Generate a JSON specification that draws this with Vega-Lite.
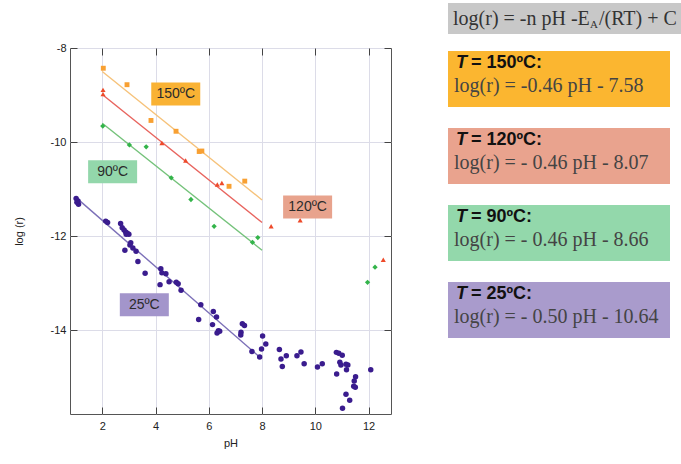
{
  "$schema": "https://vega.github.io/schema/vega-lite/v6.json",
  "padding": {"left": 12, "top": 3, "right": 0, "bottom": 0},
  "background": "white",
  "config": {"view": {"stroke": null}, "font": "Liberation Sans"},
  "datasets": {
    "points": [
      {"T": "150", "pH": 2.04, "logr": -8.43}, {"T": "150", "pH": 2.93, "logr": -8.78}, {"T": "150", "pH": 3.83, "logr": -9.54}, {"T": "150", "pH": 4.77, "logr": -9.77},
      {"T": "150", "pH": 5.64, "logr": -10.2}, {"T": "150", "pH": 5.74, "logr": -10.19}, {"T": "150", "pH": 6.76, "logr": -10.94}, {"T": "150", "pH": 7.35, "logr": -10.83},
      {"T": "120", "pH": 2.03, "logr": -8.89}, {"T": "120", "pH": 2.03, "logr": -8.98}, {"T": "120", "pH": 4.24, "logr": -10.02}, {"T": "120", "pH": 5.13, "logr": -10.39},
      {"T": "120", "pH": 6.32, "logr": -10.9}, {"T": "120", "pH": 6.49, "logr": -10.87}, {"T": "120", "pH": 8.34, "logr": -11.79}, {"T": "120", "pH": 9.43, "logr": -11.66},
      {"T": "120", "pH": 12.55, "logr": -12.5},
      {"T": "90", "pH": 2.02, "logr": -9.66}, {"T": "90", "pH": 3.02, "logr": -10.06}, {"T": "90", "pH": 3.65, "logr": -10.1}, {"T": "90", "pH": 4.59, "logr": -10.76},
      {"T": "90", "pH": 5.33, "logr": -11.22}, {"T": "90", "pH": 6.2, "logr": -11.79}, {"T": "90", "pH": 7.64, "logr": -12.13}, {"T": "90", "pH": 7.84, "logr": -12.03},
      {"T": "90", "pH": 11.96, "logr": -12.98}, {"T": "90", "pH": 12.24, "logr": -12.66},
      {"T": "25", "pH": 1.02, "logr": -11.2}, {"T": "25", "pH": 1.09, "logr": -11.25}, {"T": "25", "pH": 1.11, "logr": -11.32}, {"T": "25", "pH": 1.05, "logr": -11.28},
      {"T": "25", "pH": 2.13, "logr": -11.68}, {"T": "25", "pH": 2.2, "logr": -11.71}, {"T": "25", "pH": 2.69, "logr": -11.73}, {"T": "25", "pH": 2.75, "logr": -11.82},
      {"T": "25", "pH": 2.82, "logr": -11.87}, {"T": "25", "pH": 2.88, "logr": -11.91}, {"T": "25", "pH": 2.94, "logr": -11.94}, {"T": "25", "pH": 3.0, "logr": -11.96},
      {"T": "25", "pH": 2.9, "logr": -11.96}, {"T": "25", "pH": 3.07, "logr": -12.14}, {"T": "25", "pH": 3.04, "logr": -12.19}, {"T": "25", "pH": 3.15, "logr": -12.25},
      {"T": "25", "pH": 2.85, "logr": -12.3}, {"T": "25", "pH": 3.27, "logr": -12.32}, {"T": "25", "pH": 3.34, "logr": -12.54}, {"T": "25", "pH": 3.61, "logr": -12.79},
      {"T": "25", "pH": 4.2, "logr": -12.69}, {"T": "25", "pH": 4.24, "logr": -12.78}, {"T": "25", "pH": 4.39, "logr": -12.8}, {"T": "25", "pH": 4.17, "logr": -13.03},
      {"T": "25", "pH": 4.51, "logr": -12.97}, {"T": "25", "pH": 4.78, "logr": -12.98}, {"T": "25", "pH": 4.85, "logr": -13.01}, {"T": "25", "pH": 4.96, "logr": -13.15},
      {"T": "25", "pH": 5.7, "logr": -13.46}, {"T": "25", "pH": 5.62, "logr": -13.77}, {"T": "25", "pH": 6.17, "logr": -13.6}, {"T": "25", "pH": 6.29, "logr": -13.72},
      {"T": "25", "pH": 6.14, "logr": -13.88}, {"T": "25", "pH": 6.31, "logr": -14.06}, {"T": "25", "pH": 6.36, "logr": -14.01}, {"T": "25", "pH": 6.41, "logr": -14.02},
      {"T": "25", "pH": 7.26, "logr": -13.86}, {"T": "25", "pH": 7.34, "logr": -13.9}, {"T": "25", "pH": 7.21, "logr": -14.04}, {"T": "25", "pH": 7.2, "logr": -14.1},
      {"T": "25", "pH": 7.62, "logr": -14.45}, {"T": "25", "pH": 7.91, "logr": -14.57}, {"T": "25", "pH": 8.02, "logr": -14.12}, {"T": "25", "pH": 7.98, "logr": -14.4},
      {"T": "25", "pH": 8.14, "logr": -14.29}, {"T": "25", "pH": 8.65, "logr": -14.41}, {"T": "25", "pH": 8.71, "logr": -14.61}, {"T": "25", "pH": 8.76, "logr": -14.77},
      {"T": "25", "pH": 8.91, "logr": -14.54}, {"T": "25", "pH": 9.31, "logr": -14.54}, {"T": "25", "pH": 9.46, "logr": -14.46}, {"T": "25", "pH": 9.58, "logr": -14.71},
      {"T": "25", "pH": 10.08, "logr": -14.78}, {"T": "25", "pH": 10.26, "logr": -14.71}, {"T": "25", "pH": 10.79, "logr": -14.47}, {"T": "25", "pH": 10.88, "logr": -14.49},
      {"T": "25", "pH": 11.01, "logr": -14.53}, {"T": "25", "pH": 10.92, "logr": -14.68}, {"T": "25", "pH": 10.96, "logr": -14.74}, {"T": "25", "pH": 11.15, "logr": -14.72},
      {"T": "25", "pH": 11.22, "logr": -14.74}, {"T": "25", "pH": 11.17, "logr": -14.84}, {"T": "25", "pH": 10.8, "logr": -14.93}, {"T": "25", "pH": 11.51, "logr": -14.99},
      {"T": "25", "pH": 11.46, "logr": -15.08}, {"T": "25", "pH": 11.44, "logr": -15.19}, {"T": "25", "pH": 11.5, "logr": -15.21}, {"T": "25", "pH": 11.15, "logr": -15.36},
      {"T": "25", "pH": 11.29, "logr": -15.49}, {"T": "25", "pH": 11.02, "logr": -15.66}, {"T": "25", "pH": 12.08, "logr": -14.84}
    ],
    "fits": [
      {"T": "150", "pH": 2, "logr": -8.5}, {"T": "150", "pH": 8, "logr": -11.23},
      {"T": "120", "pH": 2, "logr": -8.99}, {"T": "120", "pH": 8, "logr": -11.71},
      {"T": "90", "pH": 2, "logr": -9.6}, {"T": "90", "pH": 8, "logr": -12.3},
      {"T": "25", "pH": 1.02, "logr": -11.18}, {"T": "25", "pH": 7.95, "logr": -14.59}
    ],
    "labels": [
      {"T": "150", "label": "150ºC", "pH": 4.76, "logr": -8.98},
      {"T": "120", "label": "120ºC", "pH": 9.71, "logr": -11.38},
      {"T": "90", "label": "90ºC", "pH": 2.39, "logr": -10.63},
      {"T": "25", "label": "25ºC", "pH": 3.58, "logr": -13.46}
    ],
    "eqs": [
      {"T": "150", "head": "= 150ºC:", "eq": "log(r) = -0.46 pH - 7.58"},
      {"T": "120", "head": "= 120ºC:", "eq": "log(r) = - 0.46 pH - 8.07"},
      {"T": "90", "head": "= 90ºC:", "eq": "log(r) = - 0.46 pH - 8.66"},
      {"T": "25", "head": "= 25ºC:", "eq": "log(r) = - 0.50 pH - 10.64"}
    ],
    "general": [{"part1": "log(r) = -n pH -E", "sub": "A", "part2": "/(RT) + C"}]
  },
  "hconcat": [
    {
      "spacing": 7,
      "vconcat": [
        {
          "width": 10, "height": 31, "view": {"stroke": null},
          "data": {"values": [{}]},
          "mark": {"type": "text"},
          "encoding": {"text": {"value": ""}}
        },
        {
          "width": 321, "height": 366,
          "view": {"stroke": "#555", "strokeWidth": 1},
          "resolve": {"axis": {"x": "independent", "y": "independent"}, "scale": {"color": "independent", "shape": "independent"}},
          "layer": [
            {
              "data": {"name": "fits"},
              "mark": {"type": "line", "strokeWidth": 1.4},
              "encoding": {
                "x": {"field": "pH", "type": "quantitative", "scale": {"domain": [0.79, 12.84], "nice": false, "zero": false},
                  "axis": {"orient": "bottom", "values": [2, 4, 6, 8, 10, 12], "title": "pH", "grid": true, "gridColor": "#DCDCE8", "domain": false,
                    "tickSize": -7, "tickColor": "#444", "labelPadding": 13, "labelFontSize": 11, "labelColor": "#222", "labelFont": "Liberation Sans",
                    "titleFont": "Liberation Sans", "titleFontSize": 11, "titleFontWeight": "normal", "titleColor": "#222", "titlePadding": 6}},
                "y": {"field": "logr", "type": "quantitative", "scale": {"domain": [-15.78, -8], "nice": false, "zero": false},
                  "axis": {"orient": "left", "values": [-8, -10, -12, -14], "labelExpr": "'' + datum.value", "title": "log (r)", "grid": true, "gridColor": "#DCDCE8", "domain": false,
                    "tickSize": -7, "tickColor": "#444", "labelPadding": 11, "labelFontSize": 11, "labelColor": "#222", "labelFont": "Liberation Sans",
                    "titleFont": "Liberation Sans", "titleFontSize": 11, "titleFontWeight": "normal", "titleColor": "#222", "titlePadding": 26}},
                "color": {"field": "T", "type": "nominal", "scale": {"domain": ["150", "120", "90", "25"], "range": ["#F6C27A", "#E8645E", "#74C27A", "#7C70B8"]}, "legend": null},
                "detail": {"field": "T"}
              }
            },
            {
              "data": {"name": "points"},
              "mark": {"type": "point", "filled": true, "opacity": 1, "strokeWidth": 0},
              "encoding": {
                "x": {"field": "pH", "type": "quantitative",
                  "axis": {"orient": "top", "values": [2, 4, 6, 8, 10, 12], "labels": false, "title": null, "grid": false, "domain": false, "tickSize": -7, "tickColor": "#444"}},
                "y": {"field": "logr", "type": "quantitative",
                  "axis": {"orient": "right", "values": [-8, -10, -12, -14], "labels": false, "title": null, "grid": false, "domain": false, "tickSize": -7, "tickColor": "#444"}},
                "color": {"field": "T", "type": "nominal", "scale": {"domain": ["150", "120", "90", "25"], "range": ["#F8A032", "#EE4A2A", "#33B44A", "#3A1C8E"]}, "legend": null},
                "shape": {"field": "T", "type": "nominal", "scale": {"domain": ["150", "120", "90", "25"], "range": ["square", "triangle-up", "diamond", "circle"]}, "legend": null},
                "size": {"field": "T", "type": "nominal", "scale": {"domain": ["150", "120", "90", "25"], "range": [24, 30, 30, 19]}, "legend": null}
              }
            },
            {
              "data": {"name": "labels"},
              "mark": {"type": "point", "filled": true, "opacity": 1, "strokeWidth": 0, "shape": "M-1,-0.47L1,-0.47L1,0.47L-1,0.47Z", "size": 2401},
              "encoding": {
                "x": {"field": "pH", "type": "quantitative", "axis": null},
                "y": {"field": "logr", "type": "quantitative", "axis": null},
                "color": {"field": "T", "type": "nominal", "scale": {"domain": ["150", "120", "90", "25"], "range": ["#F9B234", "#E8A38D", "#93D7AB", "#A395CB"]}, "legend": null}
              }
            },
            {
              "data": {"name": "labels"},
              "mark": {"type": "text", "font": "Liberation Sans", "fontSize": 14, "color": "#2B2B2B", "align": "center", "baseline": "middle"},
              "encoding": {
                "x": {"field": "pH", "type": "quantitative", "axis": null},
                "y": {"field": "logr", "type": "quantitative", "axis": null},
                "text": {"field": "label"}
              }
            }
          ]
        }
      ]
    },
    {
      "spacing": 17,
      "vconcat": [
        {
          "width": 233, "height": 31, "view": {"stroke": null},
          "data": {"name": "general"},
          "layer": [
            {"mark": {"type": "rect", "color": "#C8C8C8"}, "encoding": {}},
            {"mark": {"type": "text", "align": "left", "baseline": "alphabetic", "dy": 6, "font": "Liberation Serif", "fontSize": 20, "color": "#333"},
              "encoding": {"x": {"value": 5}, "text": {"field": "part1"}}},
            {"mark": {"type": "text", "align": "left", "baseline": "alphabetic", "dy": 9, "font": "Liberation Serif", "fontSize": 11, "color": "#333"},
              "encoding": {"x": {"value": 142}, "text": {"field": "sub"}}},
            {"mark": {"type": "text", "align": "left", "baseline": "alphabetic", "dy": 6, "font": "Liberation Serif", "fontSize": 20, "color": "#333"},
              "encoding": {"x": {"value": 151}, "text": {"field": "part2"}}}
          ]
        },
        {
          "width": 222, "height": 287, "view": {"stroke": null},
          "data": {"name": "eqs"},
          "encoding": {"y": {"field": "T", "type": "nominal", "sort": ["150", "120", "90", "25"], "scale": {"paddingInner": 0.273, "paddingOuter": 0}, "axis": null}},
          "layer": [
            {"mark": {"type": "rect"},
              "encoding": {"color": {"field": "T", "type": "nominal", "scale": {"domain": ["150", "120", "90", "25"], "range": ["#FBB630", "#E9A38E", "#93D8AB", "#A99BCC"]}, "legend": null}}},
            {"mark": {"type": "text", "align": "left", "baseline": "alphabetic", "dy": -11, "font": "Liberation Sans", "fontSize": 18, "fontWeight": "bold", "fontStyle": "italic", "color": "#111"},
              "encoding": {"x": {"value": 8}, "text": {"value": "T"}}},
            {"mark": {"type": "text", "align": "left", "baseline": "alphabetic", "dy": -11, "font": "Liberation Sans", "fontSize": 18, "fontWeight": "bold", "color": "#111"},
              "encoding": {"x": {"value": 23}, "text": {"field": "head"}}},
            {"mark": {"type": "text", "align": "left", "baseline": "alphabetic", "dy": 13, "font": "Liberation Serif", "fontSize": 20, "color": "#444"},
              "encoding": {"x": {"value": 6}, "text": {"field": "eq"}}}
          ]
        }
      ]
    }
  ],
  "spacing": 56
}
